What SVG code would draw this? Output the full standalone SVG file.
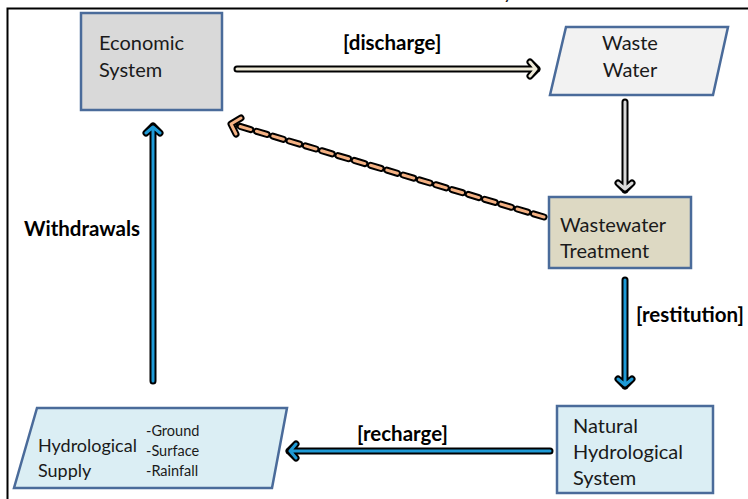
<svg xmlns="http://www.w3.org/2000/svg" width="748" height="499" viewBox="0 0 748 499">
<style>
.node{stroke:#4a6b9a;stroke-width:2.5}
.t{font-family:Lato,"Open Sans","Liberation Sans",sans-serif;font-size:20px;fill:#1a1a1a}
.t2{font-family:Lato,"Open Sans","Liberation Sans",sans-serif;font-size:18px;fill:#1a1a1a}
.s{font-family:Lato,"Open Sans","Liberation Sans",sans-serif;font-size:14.5px;fill:#1a1a1a}
.b{font-family:Lato,"Open Sans","Liberation Sans",sans-serif;font-size:20.5px;font-weight:bold;fill:#000}
.out{fill:none;stroke:#000;stroke-width:7;stroke-linecap:round;stroke-linejoin:round}
.in{fill:none;stroke-width:3;stroke-linecap:round;stroke-linejoin:round}
.blue{stroke:#1e9ad6}
.cream{stroke:#eeead8}
.gray{stroke:#d9d9d9}
.orange{stroke:#f4b183}
</style>
<rect width="748" height="499" fill="#fff"/>
<path d="M7.5,499 V8.5 H748" fill="none" stroke="#000" stroke-width="2"/>
<text x="503" y="-1" class="t">y</text>

<g id="economic">
<rect class="node" x="81" y="13" width="141" height="97" fill="#d9d9d9"/>
<text class="t" x="99" y="50">Economic</text>
<text class="t" x="99" y="77">System</text>
</g>
<g id="wastewater">
<polygon class="node" points="566,27 728,27 713,95 550,95" fill="#f2f2f2"/>
<text class="t" x="630" y="50" text-anchor="middle">Waste</text>
<text class="t" x="630" y="77" text-anchor="middle">Water</text>
</g>
<g id="treatment">
<rect class="node" x="549" y="197" width="142" height="71" fill="#ddd9c3"/>
<text class="t" x="560" y="232">Wastewater</text>
<text class="t" x="560" y="258">Treatment</text>
</g>
<g id="natural">
<rect class="node" x="557" y="406" width="156" height="87" fill="#dbeef4"/>
<text class="t" x="573" y="433">Natural</text>
<text class="t" x="573" y="459">Hydrological</text>
<text class="t" x="573" y="485">System</text>
</g>
<g id="supply">
<polygon class="node" points="37,408 287,408 272,488 14,488" fill="#dbeef4"/>
<text class="t2" x="38" y="452">Hydrological</text>
<text class="t2" x="38" y="477">Supply</text>
<text class="s" x="146" y="436">-Ground</text>
<text class="s" x="146" y="456">-Surface</text>
<text class="s" x="146" y="476">-Rainfall</text>
</g>

<g id="connectors">
<!-- discharge -->
<path class="out" d="M237,69 H537 M530,62 L537,69 L530,76"/>
<path class="in cream" d="M237,69 H536 M530,62 L536,69 L530,76"/>
<!-- waste water to treatment -->
<path class="out" d="M625,102 V190 M618,183 L625,190 L632,183"/>
<path class="in gray" d="M625,102 V189 M618,183 L625,189 L632,183"/>
<!-- dashed return -->
<path class="out" d="M544,217 L232,124" stroke-dasharray="11,6" stroke-width="6.5"/>
<path class="in orange" d="M544,217 L232,124" stroke-dasharray="11,6" stroke-width="2.5"/>
<path class="out" d="M241,118 L231,124 L236,134"/>
<path class="in orange" d="M241,118 L231,124 L236,134"/>
<!-- restitution -->
<path class="out" d="M625,280 V386 M618,379 L625,386 L632,379"/>
<path class="in blue" d="M625,280 V385 M618,379 L625,385 L632,379"/>
<!-- recharge -->
<path class="out" d="M550,451 H289 M296,444 L289,451 L296,458"/>
<path class="in blue" d="M550,451 H290 M296,444 L290,451 L296,458"/>
<!-- withdrawals -->
<path class="out" d="M153,381 V126 M146,133 L153,126 L160,133"/>
<path class="in blue" d="M153,381 V127 M146,133 L153,127 L160,133"/>
<text class="b" x="343" y="50">[discharge]</text>
<text class="b" x="636" y="322">[restitution]</text>
<text class="b" x="357" y="441">[recharge]</text>
<text class="b" x="24" y="236">Withdrawals</text>
</g>
</svg>
